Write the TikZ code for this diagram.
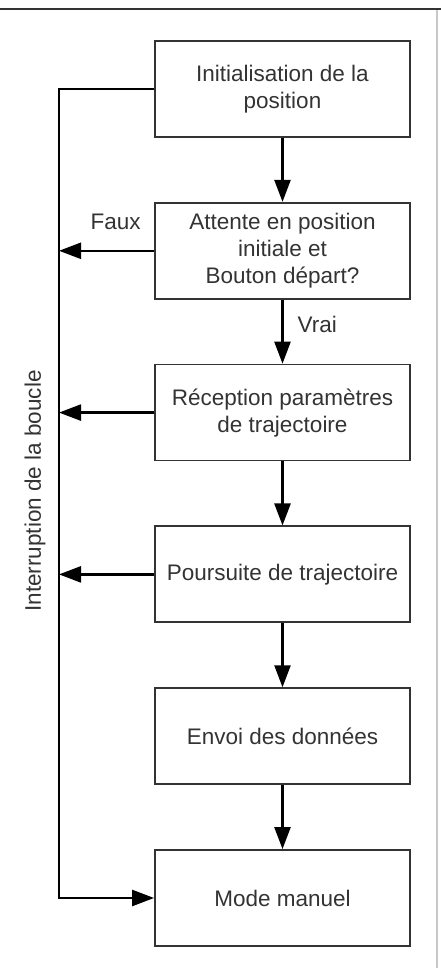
\documentclass[tikz,border=0pt]{standalone}
\usepackage{fontspec}
\setmainfont{Liberation Sans}
\usepackage{tikz}
\usetikzlibrary{
  arrows.meta,
  calc,
  positioning
}
\definecolor{boxgray}{HTML}{333333}
\definecolor{framegray}{HTML}{C8C8C8}

\tikzset{
  etape/.style={draw=boxgray, line width=1.8pt, minimum width=255pt, minimum height=96pt,
    align=center, text=boxgray, font=\fontsize{22.5}{27}\selectfont, inner sep=0pt},
  fleche/.style={-{Triangle[length=22pt, width=16pt]}, line width=2.4pt},
  etiquette/.style={text=boxgray, font=\fontsize{22.5}{27}\selectfont, inner sep=0pt}
}

\begin{document}
\begin{tikzpicture}[x=1pt, y=1pt, node distance=64pt]
            \useasboundingbox (0, 0) rectangle (441, 968);
            \draw[line width=2pt, boxgray] (0, 958.5) -- (441, 958.5);
            \draw[line width=1.5pt, framegray] (437, 958) -- (437, 0);
            \node[etape] (init) at (282.5, 879) {Initialisation de la\\position};
            \node[etape, below=of init] (attente) {Attente en position\\initiale et\\Bouton départ?};
            \node[etape, below=of attente] (reception) {Réception paramètres\\de trajectoire};
            \node[etape, below=of reception] (poursuite) {Poursuite de trajectoire};
            \node[etape, below=of poursuite] (envoi) {Envoi des données};
            \node[etape, below=of envoi] (manuel) {Mode manuel};
            \coordinate (boucle) at (59, 0);
            \draw[fleche] (init) -- (attente);
            \draw[fleche] (attente) -- node[etiquette, right=14pt, yshift=7pt] (vrai) {Vrai} (reception);
            \draw[fleche] (reception) -- (poursuite);
            \draw[fleche] (poursuite) -- (envoi);
            \draw[fleche] (envoi) -- (manuel);
            \draw[fleche] (init.west) -- (init.west -| boucle) -- (manuel.west -| boucle) -- (manuel.west);
            \draw[fleche] (attente.west) -- node[etiquette, above=20pt, xshift=9pt] (faux) {Faux} (attente.west -| boucle);
            \draw[fleche] (reception.west) -- (reception.west -| boucle);
            \draw[fleche] (poursuite.west) -- (poursuite.west -| boucle);
            \node[etiquette, rotate=90] (interruption) at (35, 477) {Interruption de la boucle};
          \end{tikzpicture}
\end{document}
